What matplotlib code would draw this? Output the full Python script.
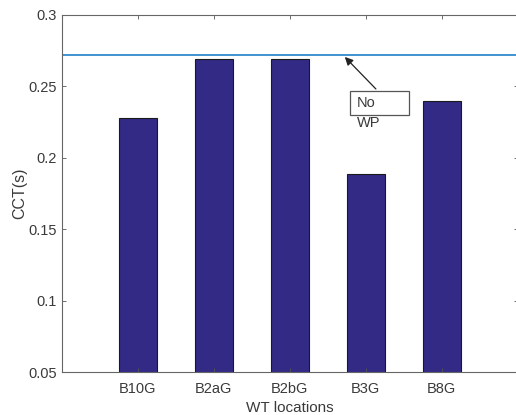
import matplotlib
matplotlib.use("Agg")
import matplotlib.pyplot as plt
from matplotlib.patches import Rectangle

locations = ["B10G", "B2aG", "B2bG", "B3G", "B8G"]
cct = [0.228, 0.269, 0.269, 0.189, 0.240]
no_wp_cct = 0.272
y_ticks = [0.05, 0.1, 0.15, 0.2, 0.25, 0.3]
y_tick_labels = ["0.05", "0.1", "0.15", "0.2", "0.25", "0.3"]

plt.rcParams["font.family"] = ["Liberation Sans", "DejaVu Sans"]
TXT = "#3a3a3a"

fig = plt.figure(figsize=(5.16, 4.15), dpi=100)
ax = fig.add_axes([0.120, 0.1036, 0.883, 0.8603])

x = list(range(1, len(locations) + 1))
ax.bar(x, cct, width=0.5, color="#332a85", edgecolor="#1a1a1a", linewidth=0.8)
ax.axhline(no_wp_cct, color="#1f80c8", linewidth=1.2)

ax.set_xlim(0, 6)
ax.set_ylim(0.05, 0.3)
ax.set_xticks(x)
ax.set_xticklabels(locations)
ax.set_yticks(y_ticks)
ax.set_yticklabels(y_tick_labels)
ax.tick_params(direction="in", top=True, right=True, colors="#555555",
               labelsize=10.5, length=3, width=0.6, labelcolor=TXT)
ax.tick_params(axis="x", pad=7)
for s in ax.spines.values():
    s.set_color("#666666")
    s.set_linewidth(0.8)

ax.set_xlabel("WT locations", fontsize=11, color=TXT, labelpad=4)
ax.set_ylabel("CCT(s)", fontsize=11.5, color=TXT, labelpad=1)

# text box annotation
ax.add_patch(Rectangle((3.796, 0.2300), 0.776, 0.0168, facecolor="white",
                       edgecolor="#555555", linewidth=0.9, zorder=4))
ax.annotate("", xy=(3.70, no_wp_cct), xytext=(4.16, 0.2468),
            arrowprops=dict(arrowstyle="-|>", color="#222222", lw=0.9,
                            mutation_scale=12), zorder=5)
ax.text(3.88, 0.2384, "No", fontsize=10.5, color=TXT, va="center", zorder=6)
ax.text(3.88, 0.2245, "WP", fontsize=10.5, color=TXT, va="center", zorder=6)

fig.savefig("out.png", dpi=100)
